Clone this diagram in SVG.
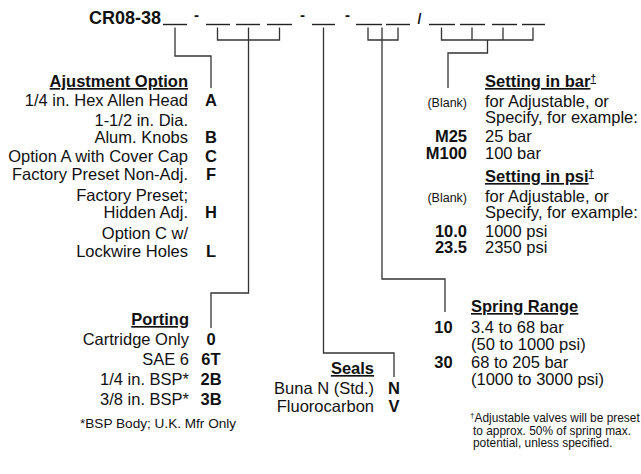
<svg xmlns="http://www.w3.org/2000/svg" width="641" height="474" viewBox="0 0 641 474">
<style>
text{font-family:"Liberation Sans",Arial,sans-serif;fill:#111;font-size:16.5px}
.b{font-weight:bold}
.h{font-weight:bold;text-decoration:underline}
.r{text-anchor:end}
.m{text-anchor:middle}
.s{font-size:12.5px}
.f{font-size:11.9px}
.ln{stroke:#333;stroke-width:1.3;fill:none}
.bl{stroke:#222;stroke-width:1.4}
</style>
<rect width="641" height="474" fill="#fff"/>
<g id="title">
<text x="89" y="24" class="b" style="font-size:18px">CR08-38</text>
<g class="bl">
<line x1="163" y1="24.5" x2="187" y2="24.5"/>
<line x1="206" y1="24.5" x2="230" y2="24.5"/>
<line x1="236" y1="24.5" x2="260" y2="24.5"/>
<line x1="267" y1="24.5" x2="292" y2="24.5"/>
<line x1="312" y1="24.5" x2="335" y2="24.5"/>
<line x1="356" y1="24.5" x2="382" y2="24.5"/>
<line x1="386" y1="24.5" x2="410" y2="24.5"/>
<line x1="429" y1="24.5" x2="455" y2="24.5"/>
<line x1="460" y1="24.5" x2="485" y2="24.5"/>
<line x1="492" y1="24.5" x2="517" y2="24.5"/>
<line x1="522" y1="24.5" x2="545" y2="24.5"/>
</g>
<text x="196.5" y="20" class="b m" style="font-size:15px">-</text>
<text x="302.5" y="20" class="b m" style="font-size:15px">-</text>
<text x="347.5" y="20" class="b m" style="font-size:15px">-</text>
<text x="419.5" y="23.5" class="b m" style="font-size:14px">/</text>
</g>
<g id="connectors" class="ln">
<path d="M175,27.5 V56 H211 V88"/>
<path d="M217.5,27.5 V40 H279.5 V27.5"/>
<path d="M248.5,27.5 V293 H211 V328"/>
<path d="M323.5,27.5 V353 H394 V377"/>
<path d="M368,27.5 V40 H398 V27.5"/>
<path d="M382,27.5 V279 H445 V312"/>
<path d="M441.5,27.5 V40 H533 V27.5 M472,27.5 V40 M503,27.5 V40"/>
<path d="M487.5,40 V53 H448 V88"/>
</g>
<g id="adjustment">
<text x="188" y="87" class="h r">Ajustment Option</text>
<text x="188" y="106" class="r">1/4 in. Hex Allen Head</text><text x="211" y="106" class="b m">A</text>
<text x="188" y="126" class="r">1-1/2 in. Dia.</text>
<text x="188" y="143" class="r">Alum. Knobs</text><text x="211" y="143" class="b m">B</text>
<text x="188" y="162" class="r">Option A with Cover Cap</text><text x="211" y="162" class="b m">C</text>
<text x="188" y="180" class="r">Factory Preset Non-Adj.</text><text x="211" y="180" class="b m">F</text>
<text x="188" y="201" class="r">Factory Preset;</text>
<text x="188" y="218" class="r">Hidden Adj.</text><text x="211" y="218" class="b m">H</text>
<text x="188" y="239" class="r">Option C w/</text>
<text x="188" y="257" class="r">Lockwire Holes</text><text x="211" y="257" class="b m">L</text>
</g>
<g id="porting">
<text x="189" y="325" class="h r">Porting</text>
<text x="189" y="345" class="r">Cartridge Only</text><text x="211" y="345" class="b m">0</text>
<text x="189" y="365" class="r">SAE 6</text><text x="211" y="365" class="b m">6T</text>
<text x="189" y="385" class="r">1/4 in. BSP*</text><text x="211" y="385" class="b m">2B</text>
<text x="189" y="405" class="r">3/8 in. BSP*</text><text x="211" y="405" class="b m">3B</text>
<text x="80" y="428" style="font-size:13.6px">*BSP Body; U.K. Mfr Only</text>
</g>
<g id="seals">
<text x="374" y="374" class="h r">Seals</text>
<text x="374" y="394" class="r">Buna N (Std.)</text><text x="394" y="394" class="b m">N</text>
<text x="374" y="412" class="r">Fluorocarbon</text><text x="394" y="412" class="b m">V</text>
</g>
<g id="spring">
<text x="471" y="312" class="h">Spring Range</text>
<text x="443.5" y="333" class="b m">10</text><text x="471" y="333">3.4 to 68 bar</text>
<text x="471" y="350">(50 to 1000 psi)</text>
<text x="443.5" y="368" class="b m">30</text><text x="471" y="368">68 to 205 bar</text>
<text x="471" y="385">(1000 to 3000 psi)</text>
</g>
<g id="setting">
<text x="485" y="87" class="h">Setting in bar<tspan font-size="10" dy="-5">†</tspan></text>
<text x="467" y="107" class="r s">(Blank)</text><text x="485" y="107">for Adjustable, or</text>
<text x="485" y="123">Specify, for example:</text>
<text x="467" y="142" class="b r">M25</text><text x="485" y="142">25 bar</text>
<text x="467" y="159" class="b r">M100</text><text x="485" y="159">100 bar</text>
<text x="485" y="182" class="h">Setting in psi<tspan font-size="10" dy="-5">†</tspan></text>
<text x="467" y="202" class="r s">(Blank)</text><text x="485" y="202">for Adjustable, or</text>
<text x="485" y="218">Specify, for example:</text>
<text x="467" y="237" class="b r">10.0</text><text x="485" y="237">1000 psi</text>
<text x="467" y="253" class="b r">23.5</text><text x="485" y="253">2350 psi</text>
</g>
<g id="footnote">
<text x="470" y="422" class="f"><tspan font-size="8" dy="-4">†</tspan><tspan dy="4">Adjustable valves will be preset</tspan></text>
<text x="473" y="434.5" class="f">to approx. 50% of spring max.</text>
<text x="473" y="447" class="f">potential, unless specified.</text>
</g>
</svg>
